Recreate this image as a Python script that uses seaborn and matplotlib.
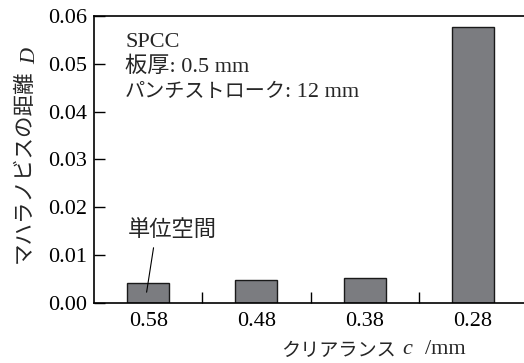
import matplotlib
matplotlib.use("Agg")
import matplotlib.pyplot as plt
import seaborn as sns
import pandas as pd

# ── data ─────────────────────────────────────────────
clearance = ["0.58", "0.48", "0.38", "0.28"]
distance  = [0.0042, 0.0048, 0.0051, 0.0577]

y_ticks  = [0.00, 0.01, 0.02, 0.03, 0.04, 0.05, 0.06]
y_labels = ["0.00", "0.01", "0.02", "0.03", "0.04", "0.05", "0.06"]

df = pd.DataFrame({"c": clearance, "D": distance})

# ── style ────────────────────────────────────────────
sns.set_theme(style="white")
FAM = ["Liberation Serif", "Noto Sans CJK JP"]
plt.rcParams["font.family"] = FAM
FS = 16      # latin / kanji
FK = 14.5    # katakana runs (narrower in the original)

W, H = 524, 363
fig = plt.figure(figsize=(W / 100, H / 100), dpi=100)
ax = fig.add_axes([94 / W, 1 - 302.7 / H, (527 - 94) / W, (302.7 - 16) / H])

sns.barplot(data=df, x="c", y="D", order=clearance, color="#7b7c80",
            edgecolor="#1a1a1a", linewidth=1.0, width=0.39, saturation=1,
            ax=ax)

ax.set_xlim(-0.5, 3.5)
ax.set_ylim(0, 0.06)
ax.set_yticks(y_ticks)
ax.set_yticklabels(y_labels)
ax.set_xlabel("")
ax.set_ylabel("")

for s in ["left", "top", "bottom"]:
    ax.spines[s].set_color("black")
    ax.spines[s].set_linewidth(1.2)
ax.spines["right"].set_visible(False)

ax.tick_params(axis="y", direction="in", length=8, width=1.0, pad=5,
               labelsize=FS, colors="black", left=True)
ax.tick_params(axis="x", which="major", length=0, pad=7, labelsize=FS,
               colors="black")
ax.set_xticks([0.5, 1.5, 2.5], minor=True)
ax.tick_params(axis="x", which="minor", direction="in", length=8, width=1.0,
               bottom=True, colors="black")

# condition text
ax.text(0.072, 0.909, "SPCC", transform=ax.transAxes, fontsize=FS,
        family=FAM, va="center")
ax.text(0.072, 0.822, "板厚: 0.5 mm", transform=ax.transAxes, fontsize=FS,
        family=FAM, va="center")
ax.text(0.072, 0.732, "パンチストローク", transform=ax.transAxes,
        fontsize=FK, family=FAM, va="center")
ax.text((285 - 94) / 433, 0.732, ": 12 mm", transform=ax.transAxes,
        fontsize=FS, family=FAM, va="center")

# unit space annotation
ax.text(0.22, 0.0148, "単位空間", ha="center", va="center", fontsize=FS,
        family=FAM)
ax.annotate("", xy=(-0.014, 0.0022), xytext=(0.05, 0.0115),
            arrowprops=dict(arrowstyle="-", color="black", lw=0.8,
                            shrinkA=0, shrinkB=0))

# axis labels (Japanese + italic symbol)
fig.text(24 / W, 1 - 166 / H, "マハラノビスの距離", rotation=90,
         ha="center", va="center", fontsize=15.5, family="Noto Sans CJK JP")
fig.text(31 / W, 1 - 56 / H, "D", rotation=90, ha="center", va="center",
         fontsize=FS, family="Liberation Serif", style="italic")

fig.text(281 / W, 1 - 350 / H, "クリアランス", ha="left", va="center",
         fontsize=13.8, family="Noto Sans CJK JP")
fig.text(402 / W, 1 - 349 / H, "c", ha="left", va="center",
         fontsize=FS, family="Liberation Serif", style="italic")
fig.text(425 / W, 1 - 349 / H, "/mm", ha="left", va="center",
         fontsize=FS, family="Liberation Serif")

fig.savefig("out.png", dpi=100)
